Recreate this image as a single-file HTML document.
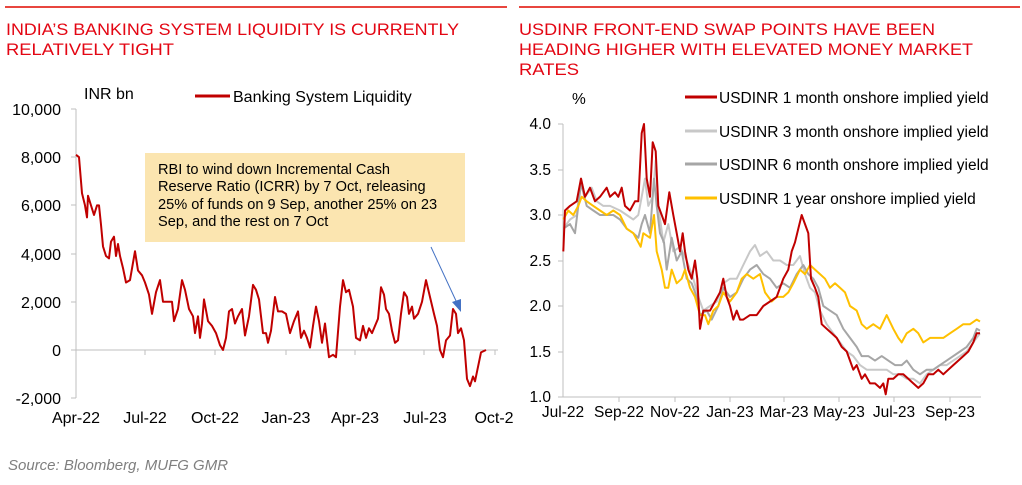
<!DOCTYPE html>
<html><head><meta charset="utf-8"><style>
html,body{margin:0;padding:0;background:#fff;}
svg{display:block;font-family:"Liberation Sans",Arial,sans-serif;}
</style></head><body>
<svg id="s" width="1022" height="485" viewBox="0 0 1022 485" xmlns="http://www.w3.org/2000/svg">
<rect width="1022" height="485" fill="#fff"/>
<line x1="5" y1="7" x2="507" y2="7" stroke="#e8463f" stroke-width="2"/>
<line x1="519" y1="7" x2="1020" y2="7" stroke="#e8463f" stroke-width="2"/>
<g fill="#e30613" font-size="16.5">
<text x="6" y="35" textLength="453" lengthAdjust="spacingAndGlyphs">INDIA’S BANKING SYSTEM LIQUIDITY IS CURRENTLY</text>
<text x="6" y="55" textLength="168" lengthAdjust="spacingAndGlyphs">RELATIVELY TIGHT</text>
<text x="519" y="35" textLength="416" lengthAdjust="spacingAndGlyphs">USDINR FRONT-END SWAP POINTS HAVE BEEN</text>
<text x="519" y="55" textLength="454" lengthAdjust="spacingAndGlyphs">HEADING HIGHER WITH ELEVATED MONEY MARKET</text>
<text x="519" y="75" textLength="60" lengthAdjust="spacingAndGlyphs">RATES</text>
</g>
<!-- left chart -->
<g font-size="16" fill="#000">
<text x="84" y="99">INR bn</text>
<line x1="195" y1="96" x2="230" y2="96" stroke="#c00000" stroke-width="3"/>
<text x="233" y="102">Banking System Liquidity</text>
<g text-anchor="end">
<text x="61" y="115">10,000</text>
<text x="61" y="163">8,000</text>
<text x="61" y="211">6,000</text>
<text x="61" y="260">4,000</text>
<text x="61" y="308">2,000</text>
<text x="61" y="356">0</text>
<text x="61" y="404">-2,000</text>
</g>
<g text-anchor="middle">
<text x="76" y="423">Apr-22</text>
<text x="145" y="423">Jul-22</text>
<text x="215" y="423">Oct-22</text>
<text x="286" y="423">Jan-23</text>
<text x="355" y="423">Apr-23</text>
<text x="425" y="423">Jul-23</text>
<text x="494" y="423">Oct-2</text>
</g>
</g>
<g stroke="#bfbfbf" stroke-width="1">
<line x1="76" y1="109" x2="76" y2="398"/>
<line x1="71" y1="109" x2="76" y2="109"/><line x1="71" y1="157" x2="76" y2="157"/><line x1="71" y1="205" x2="76" y2="205"/><line x1="71" y1="254" x2="76" y2="254"/><line x1="71" y1="302" x2="76" y2="302"/><line x1="71" y1="350" x2="76" y2="350"/><line x1="71" y1="398" x2="76" y2="398"/>
<line x1="76" y1="350" x2="498" y2="350"/>
<line x1="145" y1="350" x2="145" y2="355"/><line x1="215" y1="350" x2="215" y2="355"/><line x1="286" y1="350" x2="286" y2="355"/><line x1="355" y1="350" x2="355" y2="355"/><line x1="424" y1="350" x2="424" y2="355"/><line x1="495" y1="350" x2="495" y2="355"/>
</g>
<rect x="145" y="153" width="320" height="89" fill="#fbe5b0"/>
<g font-size="14.6" fill="#000">
<text x="158" y="174">RBI to wind down Incremental Cash</text>
<text x="158" y="191">Reserve Ratio (ICRR) by 7 Oct, releasing</text>
<text x="158" y="209">25% of funds on 9 Sep, another 25% on 23</text>
<text x="158" y="226">Sep, and the rest on 7 Oct</text>
</g>
<line x1="431" y1="247" x2="457" y2="303" stroke="#4472c4" stroke-width="1"/>
<polygon points="461,312 452,302 461,299" fill="#4472c4"/>
<polyline id="liq" fill="none" stroke="#c00000" stroke-width="2" stroke-linejoin="round"/>
<!-- right chart -->
<g font-size="15.5" fill="#000">
<text x="572" y="104">%</text>
<g text-anchor="end">
<text x="551" y="129">4.0</text>
<text x="551" y="175">3.5</text>
<text x="551" y="220">3.0</text>
<text x="551" y="266">2.5</text>
<text x="551" y="311">2.0</text>
<text x="551" y="357">1.5</text>
<text x="551" y="402">1.0</text>
</g>
<g text-anchor="middle">
<text x="563" y="417">Jul-22</text>
<text x="619" y="417">Sep-22</text>
<text x="675" y="417">Nov-22</text>
<text x="730" y="417">Jan-23</text>
<text x="784" y="417">Mar-23</text>
<text x="839" y="417">May-23</text>
<text x="894" y="417">Jul-23</text>
<text x="950" y="417">Sep-23</text>
</g>
<line x1="685" y1="97" x2="717" y2="97" stroke="#c00000" stroke-width="3"/>
<text x="719" y="103">USDINR 1 month onshore implied yield</text>
<line x1="685" y1="131" x2="717" y2="131" stroke="#c8c8c8" stroke-width="3"/>
<text x="719" y="137">USDINR 3 month onshore implied yield</text>
<line x1="685" y1="164" x2="717" y2="164" stroke="#a6a6a6" stroke-width="3"/>
<text x="719" y="170">USDINR 6 month onshore implied yield</text>
<line x1="685" y1="198" x2="717" y2="198" stroke="#ffc000" stroke-width="3"/>
<text x="719" y="204">USDINR 1 year onshore implied yield</text>
</g>
<g stroke="#bfbfbf" stroke-width="1">
<line x1="563" y1="124" x2="563" y2="397"/>
<line x1="558" y1="124" x2="563" y2="124"/><line x1="558" y1="170" x2="563" y2="170"/><line x1="558" y1="215" x2="563" y2="215"/><line x1="558" y1="261" x2="563" y2="261"/><line x1="558" y1="306" x2="563" y2="306"/><line x1="558" y1="352" x2="563" y2="352"/><line x1="558" y1="397" x2="563" y2="397"/>
<line x1="563" y1="397" x2="981" y2="397"/>
<line x1="619" y1="397" x2="619" y2="402"/><line x1="675" y1="397" x2="675" y2="402"/><line x1="730" y1="397" x2="730" y2="402"/><line x1="784" y1="397" x2="784" y2="402"/><line x1="839" y1="397" x2="839" y2="402"/><line x1="894" y1="397" x2="894" y2="402"/><line x1="950" y1="397" x2="950" y2="402"/>
</g>
<polyline id="r3" fill="none" stroke="#c8c8c8" stroke-width="2" stroke-linejoin="round"/>
<polyline id="r6" fill="none" stroke="#a6a6a6" stroke-width="2" stroke-linejoin="round"/>
<polyline id="r1y" fill="none" stroke="#ffc000" stroke-width="2" stroke-linejoin="round"/>
<polyline id="r1" fill="none" stroke="#c00000" stroke-width="2" stroke-linejoin="round"/>
<text x="8" y="470" font-size="15" font-style="italic" fill="#7f7f7f">Source: Bloomberg, MUFG GMR</text>
</svg>
<script>
var L=[76,8100,79,8000,82,6500,85,6000,87,5500,88,6400,91,6000,94,5600,97,6000,99,6000,101,5200,103,4300,106,3900,109,3800,111,4500,114,4700,116,3900,118,4400,120,3900,123,3400,126,2800,130,2900,135,4100,138,3300,142,3100,145,2800,149,2300,152,1500,156,2400,160,2900,163,2000,168,2000,172,2000,174,1200,178,1700,182,2900,185,2500,189,1700,193,1400,195,700,198,1400,200,500,202,1100,204,2100,208,1200,212,1000,216,700,220,200,223,0,226,500,229,1600,232,1700,235,1100,238,1400,242,1700,245,600,249,1400,253,2700,256,2500,259,2100,263,700,266,700,268,300,271,800,275,2200,278,1600,282,1600,286,1500,290,700,294,1200,298,1600,301,500,304,800,307,500,310,100,313,1000,316,1800,319,1200,322,300,325,1100,329,-300,333,-200,336,-300,340,1800,343,2900,346,2400,349,2500,353,1800,356,500,360,400,363,1000,366,500,369,900,372,700,375,1000,378,1300,381,2600,384,2300,386,1700,389,1500,392,800,395,300,398,400,401,1500,404,2400,407,2200,409,1500,412,1800,414,1300,418,1500,422,2000,426,2900,430,2200,434,1500,437,1000,440,0,443,-300,446,400,450,600,453,1700,456,1500,458,700,461,900,464,400,467,-1200,470,-1500,473,-1100,475,-1300,477,-900,479,-500,481,-100,486,0];
function setL(id,a,fx,fy){var p=[];for(var i=0;i<a.length;i+=2)p.push(fx(a[i]).toFixed(1)+","+fy(a[i+1]).toFixed(1));document.getElementById(id).setAttribute("points",p.join(" "));}
setL("liq",L,function(x){return x},function(v){return 350-v*0.0241});
var fx=function(z){return 510+z/3},fy=function(v){return 397-(v-1)*91};
var R1=[160,2.6,165,3.05,180,3.1,200,3.15,213,3.4,225,3.2,240,3.3,255,3.15,270,3.2,290,3.3,300,3.2,315,3.25,325,3.2,335,3.3,345,3.1,360,3.05,375,3.15,385,3.15,395,3.9,402,4.0,410,3.4,420,3.2,428,3.8,437,3.7,445,3.1,455,3.0,465,2.9,478,3.25,490,3.0,500,2.8,510,2.6,518,2.8,525,2.6,535,2.4,545,2.3,555,2.5,562,2.3,570,1.75,580,1.95,600,1.95,615,2.05,630,2.15,640,2.3,650,2.1,660,2.0,670,1.85,680,1.95,690,1.85,700,1.85,720,1.9,740,1.9,760,2.0,780,2.05,800,2.1,820,2.3,835,2.4,845,2.6,855,2.7,865,2.85,875,3.0,885,2.9,895,2.8,903,2.3,915,2.2,925,2.1,935,1.8,950,1.75,965,1.7,980,1.65,995,1.55,1010,1.5,1020,1.4,1030,1.3,1040,1.35,1055,1.2,1065,1.25,1080,1.15,1095,1.15,1110,1.1,1120,1.15,1127,1.03,1135,1.2,1150,1.2,1165,1.25,1180,1.25,1195,1.2,1210,1.15,1225,1.1,1240,1.15,1255,1.25,1270,1.25,1285,1.3,1300,1.25,1315,1.3,1330,1.35,1345,1.4,1360,1.45,1375,1.5,1390,1.6,1400,1.7,1410,1.7];
var R3=[160,2.85,180,2.95,200,3.0,213,3.4,225,3.2,245,3.3,260,3.15,280,3.1,300,3.1,330,3.05,350,3.0,370,2.95,385,3.0,395,3.2,405,3.4,415,3.1,428,3.2,437,3.6,445,3.1,460,2.7,475,2.9,490,2.6,510,2.65,530,2.5,550,2.3,565,2.1,580,1.95,600,2.0,620,2.05,640,2.25,660,2.3,680,2.3,700,2.45,720,2.6,735,2.67,750,2.55,770,2.6,790,2.5,810,2.5,830,2.45,850,2.45,870,2.55,885,2.35,900,2.2,915,2.15,930,1.95,950,1.8,970,1.7,990,1.6,1010,1.5,1030,1.45,1050,1.35,1070,1.3,1090,1.3,1110,1.3,1130,1.3,1150,1.25,1170,1.25,1190,1.2,1210,1.2,1230,1.15,1250,1.25,1270,1.3,1290,1.35,1310,1.35,1330,1.4,1350,1.45,1370,1.5,1390,1.6,1410,1.7];
var R6=[160,2.85,180,2.9,195,2.8,213,3.35,230,3.1,250,3.05,270,3.0,290,3.0,310,3.0,330,2.95,350,2.85,370,2.8,385,2.75,395,2.9,405,3.0,420,2.8,432,3.4,440,3.1,450,2.8,462,2.7,470,2.4,485,2.75,500,2.5,515,2.6,530,2.3,545,2.25,560,2.1,570,1.9,590,1.95,605,1.85,625,2.0,640,2.2,660,2.1,680,2.15,700,2.3,720,2.4,740,2.45,760,2.35,780,2.3,800,2.2,820,2.25,840,2.2,860,2.35,880,2.45,895,2.35,910,2.3,925,2.2,940,2.0,960,1.95,980,1.9,1000,1.75,1020,1.65,1040,1.55,1055,1.45,1075,1.45,1095,1.4,1115,1.45,1135,1.4,1155,1.35,1175,1.35,1190,1.4,1210,1.3,1230,1.25,1250,1.3,1270,1.3,1290,1.35,1310,1.4,1330,1.45,1350,1.5,1370,1.55,1390,1.65,1400,1.75,1410,1.73];
var RY=[160,2.95,175,3.05,190,3.0,205,3.1,215,3.2,230,3.15,250,3.1,270,3.05,290,3.0,310,3.05,330,3.0,350,2.85,370,2.8,385,2.7,392,2.65,400,2.8,420,2.75,432,3.0,440,2.6,455,2.4,465,2.2,475,2.2,485,2.4,500,2.25,515,2.3,525,2.4,540,2.2,555,2.1,570,1.9,585,1.9,595,1.8,610,1.95,625,2.0,640,2.15,660,2.05,680,2.15,695,2.3,710,2.35,730,2.3,750,2.35,765,2.15,785,2.05,800,2.1,820,2.1,835,2.15,850,2.25,870,2.4,885,2.35,900,2.45,915,2.4,930,2.35,945,2.3,960,2.2,975,2.25,990,2.2,1005,2.15,1020,2.0,1040,1.95,1055,1.8,1070,1.75,1090,1.8,1110,1.75,1130,1.9,1150,1.75,1165,1.65,1175,1.6,1190,1.7,1210,1.75,1225,1.7,1240,1.6,1260,1.65,1280,1.65,1300,1.65,1320,1.7,1340,1.75,1360,1.8,1380,1.8,1400,1.85,1410,1.83];
setL("r1",R1,fx,fy);setL("r3",R3,fx,fy);setL("r6",R6,fx,fy);setL("r1y",RY,fx,fy);
</script>
</body></html>
